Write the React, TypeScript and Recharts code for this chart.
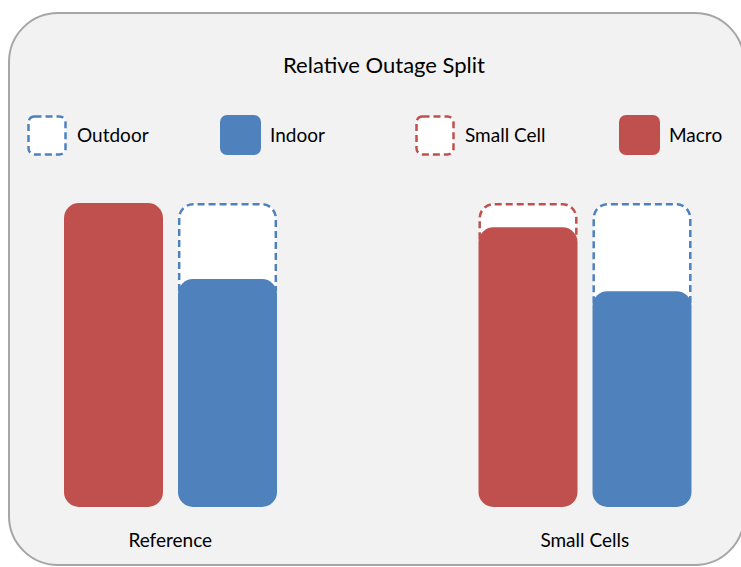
import React from 'react'
import { BarChart, Bar, XAxis, YAxis, Legend } from 'recharts'

// Share of outages (%) per scenario
const categories = ['Reference', 'Small Cells']
const macro = [100, 92]
const smallCell = [0, 8]
const indoor = [75, 71]
const outdoor = [25, 29]

const legendLabels = ['Outdoor', 'Indoor', 'Small Cell', 'Macro']

const BLUE = '#4f81bd'
const RED = '#c0504d'
const FONT = 'Lato, "Open Sans", sans-serif'

// the band scale needs a wider plot than the page, so the chart is shifted left and clipped
const SHIFT = 37
const LEGEND_X = [27, 220, 415, 619]

const data = categories.map((name, i) => ({
  name,
  macro: macro[i],
  smallCell: smallCell[i],
  indoor: indoor[i],
  outdoor: outdoor[i],
}))

function SolidBar(props: any) {
  const { x, y, width, height, fill } = props
  if (!height || height <= 0) return null
  const r = Math.min(15, width / 2, height / 2)
  return <rect x={x} y={y} width={width} height={height} rx={r} ry={r} fill={fill} />
}

// open-bottomed dashed box that slips under the solid bar below it
function DashedCap(props: any) {
  const { x, y, width, height, stroke } = props
  if (!height || height <= 0) return null
  const r = 14
  const l = x + 1.2
  const rr = x + width - 1.2
  const t = y + 1.2
  const bottom = y + height + 12
  const d = `M${l},${bottom} L${l},${t + r} A${r},${r} 0 0 1 ${l + r},${t} L${rr - r},${t} A${r},${r} 0 0 1 ${rr},${t + r} L${rr},${bottom}`
  return (
    <path
      d={d}
      fill="#ffffff"
      stroke={stroke}
      strokeWidth={2.5}
      strokeDasharray="7 4"
    />
  )
}

function LegendIcon({ label }: { label: string }) {
  const color = label === 'Outdoor' || label === 'Indoor' ? BLUE : RED
  const dashed = label === 'Outdoor' || label === 'Small Cell'
  return (
    <svg width={41} height={41} style={{ display: 'block' }}>
      {dashed ? (
        <rect x={1.5} y={1.5} width={37} height={38} rx={6} fill="#ffffff" stroke={color} strokeWidth={2.5} strokeDasharray="7 4" />
      ) : (
        <rect x={0} y={0} width={41} height={40} rx={7} fill={color} />
      )}
    </svg>
  )
}

function LegendContent() {
  return (
    <div style={{ position: 'relative', height: 42 }}>
      {legendLabels.map((label, i) => (
        <div
          key={label}
          style={{ position: 'absolute', left: LEGEND_X[i], top: 0, display: 'flex', alignItems: 'center' }}
        >
          <LegendIcon label={label} />
          <span style={{ marginLeft: 9, fontSize: 19, color: '#000', fontFamily: FONT, position: 'relative', top: -1 }}>{label}</span>
        </div>
      ))}
    </div>
  )
}

export default function App() {
  return (
    <div style={{ position: 'absolute', left: 0, top: 0, width: 741, height: 567, overflow: 'hidden', fontFamily: FONT }}>
      <div
        style={{
          position: 'absolute',
          left: 8,
          top: 12,
          width: 737,
          height: 554,
          boxSizing: 'border-box',
          border: '2px solid #a6a6a6',
          borderRadius: 50,
          background: '#f2f2f2',
        }}
      />
      <div style={{ position: 'absolute', left: 0, top: 51, width: 768, textAlign: 'center', fontSize: 22, color: '#000' }}>
        Relative Outage Split
      </div>
      <div style={{ position: 'absolute', left: -SHIFT, top: 0 }}>
        <BarChart
          width={829}
          height={567}
          data={data}
          margin={{ top: 203, right: 0, bottom: 20, left: 0 }}
          barSize={99}
          barGap={15}
          reverseStackOrder
        >
          <XAxis
            dataKey="name"
            axisLine={false}
            tickLine={false}
            height={40}
            tickMargin={21}
            tick={{ fontSize: 19, fill: '#000', fontFamily: FONT }}
          />
          <YAxis hide domain={[0, 100]} />
          <Legend
            verticalAlign="middle"
            align="center"
            content={() => <LegendContent />}
            wrapperStyle={{ top: 115, left: SHIFT, width: 741 }}
          />
          <Bar dataKey="smallCell" stackId="a" stroke={RED} shape={<DashedCap />} isAnimationActive={false} />
          <Bar dataKey="outdoor" stackId="b" stroke={BLUE} shape={<DashedCap />} isAnimationActive={false} />
          <Bar dataKey="macro" stackId="a" fill={RED} shape={<SolidBar />} isAnimationActive={false} />
          <Bar dataKey="indoor" stackId="b" fill={BLUE} shape={<SolidBar />} isAnimationActive={false} />
        </BarChart>
      </div>
    </div>
  )
}
